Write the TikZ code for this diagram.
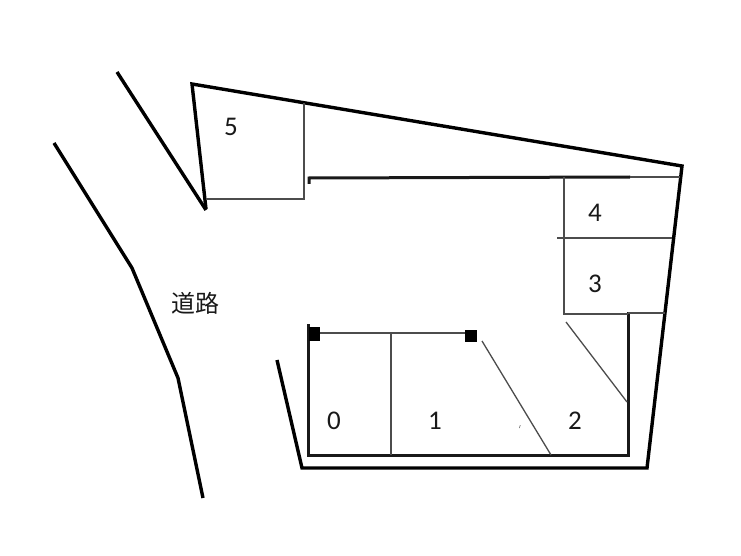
\documentclass[tikz,border=0pt]{standalone}
\usepackage{fontspec}
\setmainfont{Carlito}
\newfontfamily\cjk{Noto Sans CJK JP}
\tikzset{
  thick wall/.style={draw=black,line width=3.4pt,line join=miter},
  mid wall/.style={draw=black!90,line width=3pt},
  thin wall/.style={draw=black!70,line width=1.3pt},
  lbl/.style={font=\fontsize{27}{30}\selectfont,text=black!90,inner sep=0pt},
  post/.style={fill=black,draw=none}
}
\begin{document}
\begin{tikzpicture}[x=1pt,y=-1pt]
\useasboundingbox (0,0) rectangle (741,556);
% road edges
\draw[thick wall] (117,72) -- (206,210);
\draw[thick wall] (54,143) -- (132,268) -- (178,378) -- (203,498);
% outer boundary
\draw[thick wall] (206,209) -- (192,84) -- (682,166) -- (647,468) -- (302,468) -- (277,360);
% inner walls
\draw[mid wall] (309,184) -- (309,178) -- (630,177);
\draw[thin wall] (630,177) -- (680,177);
\draw[mid wall] (308,324) -- (308,455) -- (628,455) -- (628,312);
\draw[thin wall] (628,313) -- (665,313);
% parking dividers
\draw[thin wall] (304,103) -- (304,199) -- (206,199);
\draw[thin wall] (564,177) -- (564,314) -- (628,314);
\draw[thin wall] (557,238) -- (672,238);
\draw[thin wall] (566,322) -- (627,402);
\draw[thin wall] (482,341) -- (551,455);
\draw[thin wall] (314,333) -- (470,333);
\draw[thin wall] (391,333) -- (391,455);
% posts
\fill[post] (309,327) rectangle (320,341);
\fill[post] (465,330) rectangle (477,342);
\fill[black!60] (519,428) -- (520,425) -- (520.6,425) -- (519.6,428) -- cycle;
% labels
\node[lbl] (n0) at (334,421) {0};
\node[lbl] (n1) at (435,421) {1};
\node[lbl] (n2) at (575,421) {2};
\node[lbl] (n3) at (595,284) {3};
\node[lbl] (n4) at (595,213) {4};
\node[lbl] (n5) at (231,127) {5};
\node[lbl,font=\cjk\fontsize{24}{28}\selectfont] (road) at (195,303) {道路};
\end{tikzpicture}
\end{document}
